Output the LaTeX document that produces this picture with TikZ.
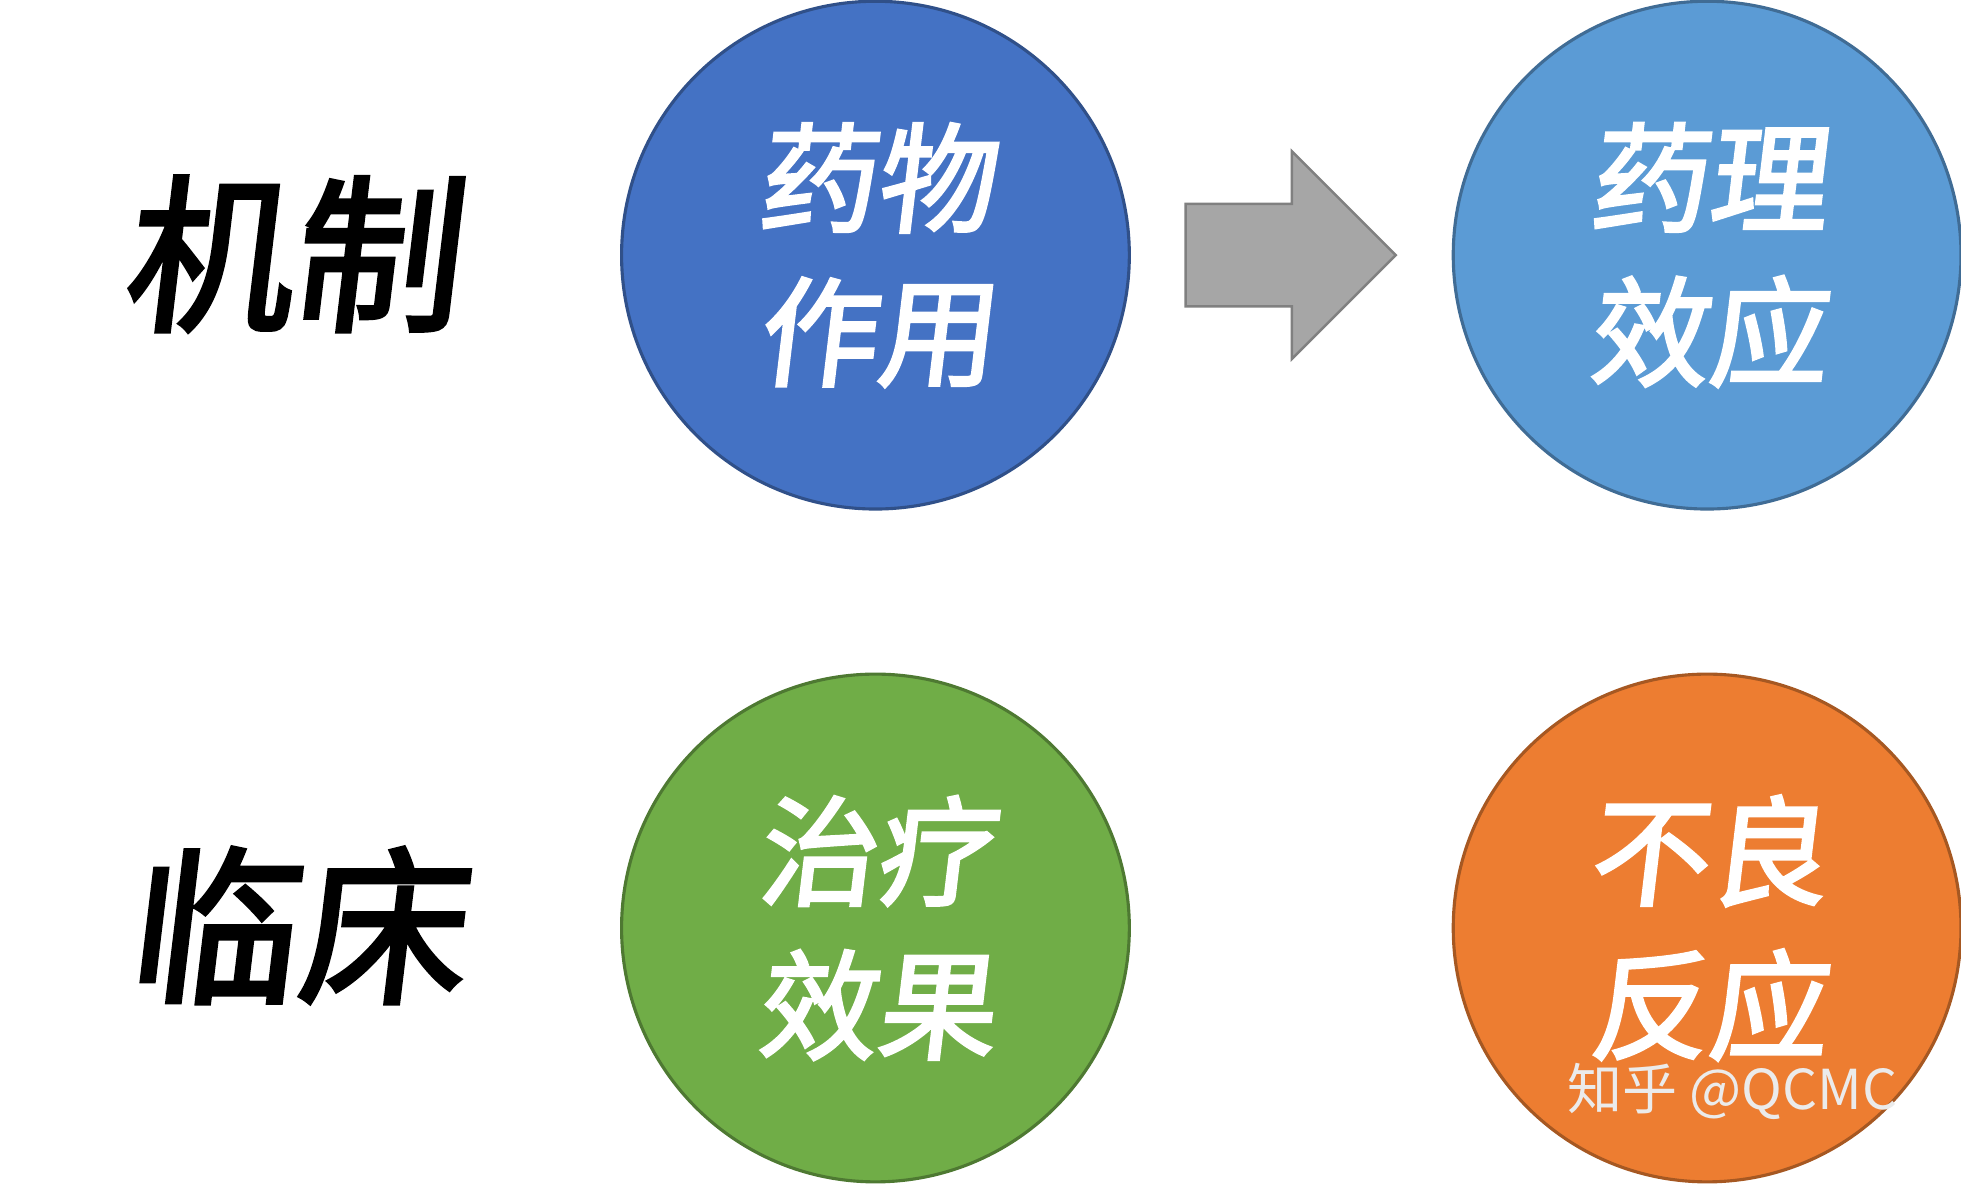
\documentclass[tikz,border=0pt]{standalone}
\usepackage{fontspec}
\newfontfamily\cjk{Noto Sans CJK SC}[FakeSlant=0.12,FakeBold=2.5]
\newfontfamily\cjkw{Noto Sans CJK SC}
\definecolor{cblue}{HTML}{4472C4}
\definecolor{clight}{HTML}{5B9BD5}
\definecolor{cgreen}{HTML}{70AD47}
\definecolor{corange}{HTML}{ED7D31}
\begin{document}
\begin{tikzpicture}[x=1pt,y=-1pt,
  circ/.style={circle,minimum size=406pt,inner sep=0pt,line width=2.5pt,text=white,align=center,
    font=\cjk\fontsize{95}{123}\selectfont},
  side/.style={font=\cjk\fontsize{135}{140}\selectfont,text=black}]
\useasboundingbox (0,0) rectangle (1568,946);
\node[circ,fill=cblue,draw=cblue!70!black] (a) at (700,204) {药物\\作用};
\node[circ,fill=clight,draw=clight!70!black] (b) at (1365,204) {药理\\效应};
\node[circ,fill=cgreen,draw=cgreen!70!black] (c) at (700,742) {治疗\\效果};
\node[circ,fill=corange,draw=corange!70!black] (d) at (1365,742) {不良\\反应};
\node[side] (m) at (232,203) {机制};
\node[side] (l) at (236,740) {临床};
\draw[fill=black!35,draw=black!50,line width=2pt] (948,163) -- (1033,163) -- (1033,121) -- (1116,204) -- (1033,287) -- (1033,245) -- (948,245) -- cycle;
\node[text=white!92!black,font=\cjkw\fontsize{44}{44}\selectfont] (w) at (1385,873) {知乎 @QCMC};
\end{tikzpicture}
\end{document}
